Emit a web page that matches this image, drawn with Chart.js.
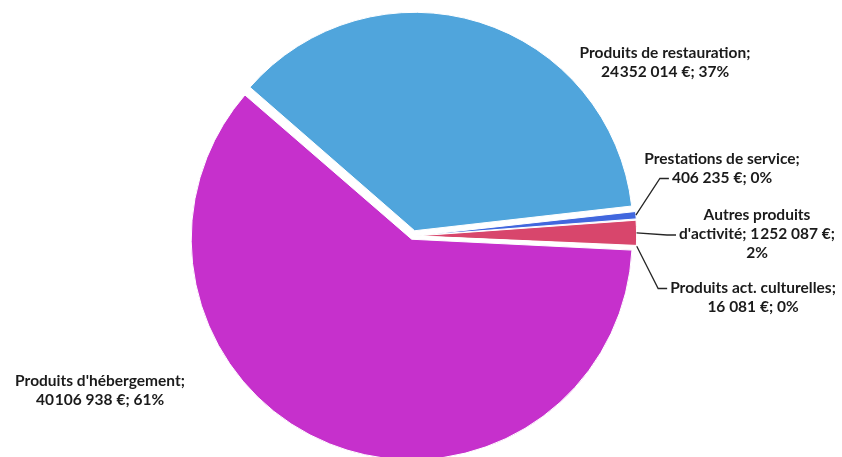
<!DOCTYPE html>
<html lang="fr">
<head>
<meta charset="utf-8">
<title>Répartition des produits</title>
<script src="https://cdn.jsdelivr.net/npm/chart.js@4.4.1/dist/chart.umd.min.js"></script>
<style>
html, body { margin: 0; padding: 0; background: #fff; }
#wrap { width: 842px; height: 457px; }
</style>
</head>
<body>
<div id="wrap"><canvas id="pie" width="842" height="457"></canvas></div>
<script>
// Données du graphique (sens horaire depuis la part restauration)
const categories = ["Produits de restauration", "Prestations de service", "Autres produits d'activité", "Produits act. culturelles", "Produits d'hébergement"];
const amounts = [24352014, 406235, 1252087, 16081, 40106938];
const percents = [37, 0, 2, 0, 61];
const sliceColors = ['#50A5DC', '#4167DE', '#D8466C', '#8FB84E', '#C630CC'];
const sliceOffsets = [22, 14, 14, 14, 14];

// Placement des étiquettes (centre du bloc, largeur de retour à la ligne, ligne visée par le trait)
const labelBoxes = [
    { x: 665, y: 62, w: 200, leader: null },
    { x: 722, y: 168, w: 180, leader: 1 },
    { x: 757, y: 234, w: 168, leader: 1 },
    { x: 753, y: 297, w: 185, leader: 0 },
    { x: 100, y: 390, w: 195, leader: null }
];
const lineH = 19;

// Format "24352 014 €"
function euros(v) {
    const s = String(v);
    const parts = [];
    for (let i = s.length; i > 0; i -= 3) parts.unshift(s.slice(Math.max(0, i - 3), i));
    let out = parts[0];
    for (let k = 1; k < parts.length; k++) {
        const sep = (k === parts.length - 1) ? '\u00A0' : '\u200A';
        out += sep + parts[k];
    }
    return out + '\u202F€';
}

function labelText(i) {
    return categories[i] + '; ' + euros(amounts[i]) + '; ' + percents[i] + '%';
}

function wrap(ctx, text, maxW) {
    const words = text.split(' ');
    const lines = [];
    let cur = '';
    words.forEach(w => {
        const test = cur ? cur + ' ' + w : w;
        if (cur && ctx.measureText(test).width > maxW) {
            lines.push(cur);
            cur = w;
        } else {
            cur = test;
        }
    });
    if (cur) lines.push(cur);
    return lines;
}

const labelPlugin = {
    id: 'sliceLabels',
    afterDatasetsDraw(chart) {
        const ctx = chart.ctx;
        const arcs = chart.getDatasetMeta(0).data;
        ctx.save();
        ctx.font = 'bold 15.5px Lato';
        ctx.fillStyle = '#1b1b1b';
        ctx.strokeStyle = '#262626';
        ctx.lineWidth = 1.3;
        ctx.textAlign = 'center';
        ctx.textBaseline = 'middle';

        labelBoxes.forEach((box, i) => {
            const lines = wrap(ctx, labelText(i), box.w);
            const top = box.y - (lines.length - 1) * lineH / 2;
            lines.forEach((l, k) => ctx.fillText(l, box.x, top + k * lineH));

            if (box.leader !== null) {
                const arc = arcs[i];
                const mid = (arc.startAngle + arc.endAngle) / 2;
                const circ = arc.endAngle - arc.startAngle;
                const off = (arc.options.offset || 0) / 4;
                const shift = off * (1 + (1 - Math.sin(Math.min(Math.PI, circ))));
                const r = arc.outerRadius + shift;
                const sx = arc.x + Math.cos(mid) * r;
                const sy = arc.y + Math.sin(mid) * r;
                const lw = ctx.measureText(lines[box.leader]).width;
                const ex = box.x - lw / 2 - 3;
                const ey = top + box.leader * lineH + 1;
                ctx.beginPath();
                ctx.moveTo(sx, sy);
                ctx.lineTo(ex - 9, ey);
                ctx.lineTo(ex, ey);
                ctx.stroke();
            }
        });
        ctx.restore();
    }
};

new Chart(document.getElementById('pie'), {
    type: 'pie',
    data: {
        labels: categories,
        datasets: [{
            data: amounts,
            backgroundColor: sliceColors,
            borderColor: '#ffffff',
            borderWidth: 1,
            offset: sliceOffsets,
            rotation: -49,
            radius: 217,
            clip: false
        }]
    },
    options: {
        responsive: false,
        animation: false,
        events: [],
        layout: { padding: { left: 0, right: 16, top: 15, bottom: 0 } },
        plugins: {
            legend: { display: false },
            tooltip: { enabled: false }
        }
    },
    plugins: [labelPlugin]
});
</script>
</body>
</html>
